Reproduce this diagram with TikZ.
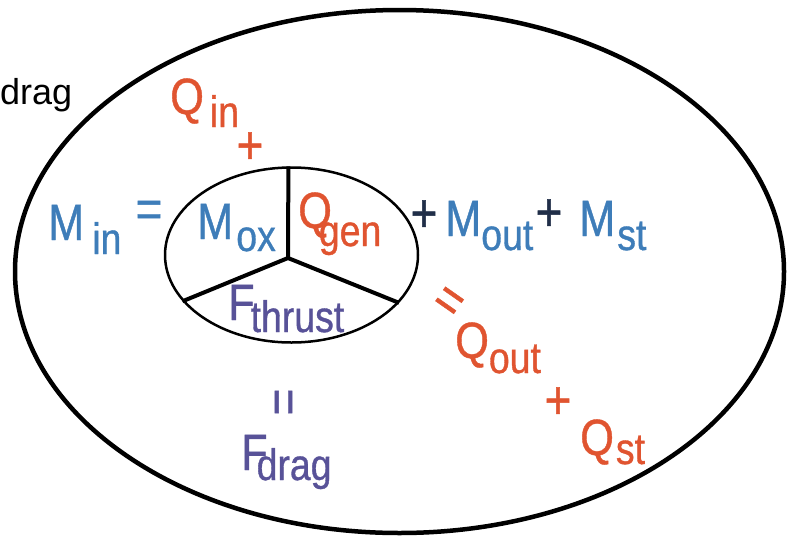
\documentclass[tikz,border=0pt]{standalone}
\usepackage{fontspec}
\setmainfont{Liberation Sans}
\newfontfamily\eqfont[FakeStretch=0.85, FakeBold=0.8]{Liberation Sans}
\usetikzlibrary{shapes.geometric}
\definecolor{massblue}{RGB}{62,125,185}
\definecolor{heatred}{RGB}{224,84,48}
\definecolor{forcepurple}{RGB}{88,82,152}
\definecolor{plusdark}{RGB}{32,46,72}
% subscript: kern, drop, text
\newcommand{\sub}[3]{\kern#1pt\raisebox{-#2pt}{\fontsize{44}{44}\selectfont #3}}

\begin{document}
\begin{tikzpicture}[x=1pt, y=-1pt,
    term/.style={inner sep=0pt, anchor=base west, font=\eqfont\fontsize{51}{51}\selectfont},
    op/.style={inner sep=0pt, font=\eqfont\fontsize{54}{54}\selectfont},
    rim/.style={draw, ellipse, inner sep=0pt},
    spoke/.style={line width=4pt}
  ]
    \useasboundingbox (0,0) rectangle (787,541);
    % control volumes
    \node[rim, line width=4.5pt, minimum width=769pt, minimum height=523pt] (sys) at (399.5,271.5) {};
    \node[rim, line width=2.5pt, minimum width=253pt, minimum height=175pt] (cell) at (291.5,255) {};
    \coordinate (hub) at (288,258);
    \draw[spoke] (hub) -- (cell.92);
    \draw[spoke] (hub) -- (cell.203);
    \draw[spoke] (hub) -- (cell.336);

    \node[term, font=\fontsize{36}{36}\selectfont] (cut) at (0,104) {drag};

    % mass balance
    \node[term, massblue] (min) at (48,240) {M\sub{8}{14}{in}};
    \node[op, massblue] (eqin) at (149,214) {=};
    \node[term, massblue] (mox) at (197,239) {M\sub{3}{12}{ox}};
    \node[op, plusdark] (pl1) at (424,216) {+};
    \node[term, massblue] (mout) at (445,236) {M\sub{0}{14}{out}};
    \node[op, plusdark] (pl2) at (549,215) {+};
    \node[term, massblue] (mst) at (579,236) {M\sub{2}{14}{st}};

    % energy balance
    \node[term, heatred] (qin) at (170,114) {Q\sub{6}{13}{in}};
    \node[op, heatred] (plq) at (250,148) {+};
    \node[term, heatred] (qgen) at (298,228) {Q\sub{-13}{18}{gen}};
    \node[op, heatred, rotate=-35] (eqq) at (447,304) {=};
    \node[term, heatred] (qout) at (455,358) {Q\sub{0}{15}{out}};
    \node[op, heatred] (plq2) at (558,403) {+};
    \node[term, heatred] (qst) at (580,455) {Q\sub{2}{9}{st}};

    % force balance
    \node[term, forcepurple] (fthr) at (228,320) {F\sub{-4}{12}{thrust}};
    \node[op, forcepurple, rotate=90] (eqf) at (288,402) {=};
    \node[term, forcepurple] (fdrag) at (241,470) {F\sub{-11}{10}{drag}};
  \end{tikzpicture}
\end{document}
